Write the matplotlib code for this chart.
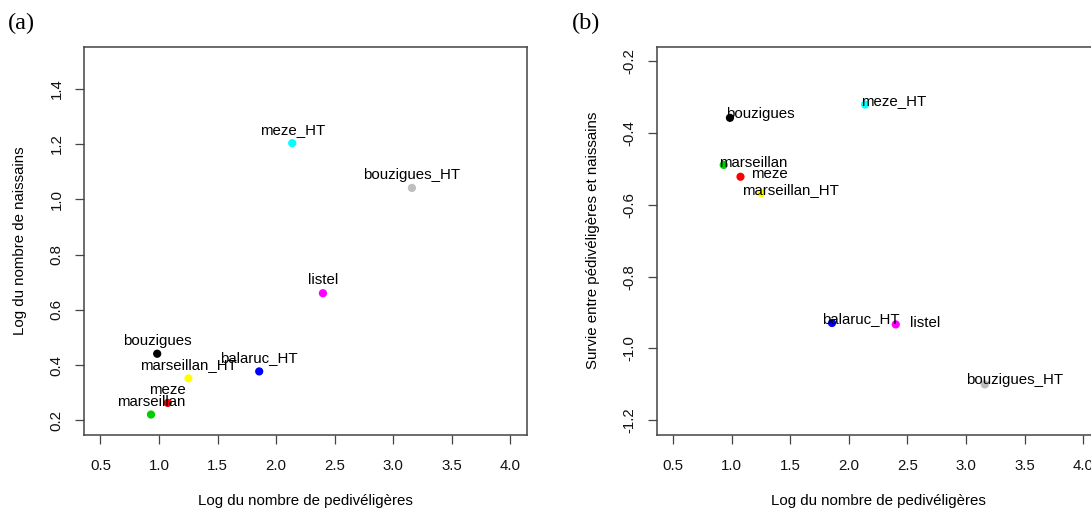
import matplotlib
matplotlib.use("Agg")
import matplotlib.pyplot as plt

plt.rcParams['font.family'] = ['Liberation Sans', 'DejaVu Sans']
plt.rcParams['axes.unicode_minus'] = False

# sites et couleurs
sites = ['bouzigues', 'bouzigues_HT', 'marseillan', 'marseillan_HT',
         'meze', 'meze_HT', 'balaruc_HT', 'listel']
couleurs = ['black', '#BEBEBE', '#00CD00', '#FFFF00',
            '#FF0000', '#00FFFF', '#0000FF', '#FF00FF']

# valeurs
log_pedi = [0.985, 3.16, 0.932, 1.252, 1.075, 2.138, 1.856, 2.40]
log_naissains = [0.441, 1.041, 0.221, 0.352, 0.263, 1.203, 0.377, 0.660]
survie = [-0.358, -1.100, -0.489, -0.568, -0.522, -0.321, -0.929, -0.933]

xticks = [0.5, 1.0, 1.5, 2.0, 2.5, 3.0, 3.5, 4.0]
yticks_a = [0.2, 0.4, 0.6, 0.8, 1.0, 1.2, 1.4]
yticks_b = [-1.2, -1.0, -0.8, -0.6, -0.4, -0.2]

# decalage des etiquettes du panneau (b), en pixels
decal_b = {'bouzigues': (-4, 4), 'bouzigues_HT': (-19, 4), 'marseillan': (-5, 2),
           'marseillan_HT': (-19, 3), 'meze': (11, 3), 'meze_HT': (-4, 4),
           'balaruc_HT': (-10, 4), 'listel': (14, 1)}

gris = '#444444'
fs = 10.8


def style_axes(ax, yticks, ylim):
    ax.set_xlim(0.5 - 0.14, 4.0 + 0.14)
    r = ylim[1] - ylim[0]
    ax.set_ylim(ylim[0] - 0.04 * r, ylim[1] + 0.04 * r)
    ax.set_xticks(xticks)
    ax.set_xticklabels([f"{v:.1f}" for v in xticks])
    ax.set_yticks(yticks)
    ax.set_yticklabels([f"{v:.1f}" for v in yticks], rotation=90, va='center')
    for s in ax.spines.values():
        s.set_color(gris)
        s.set_linewidth(1.1)
    ax.tick_params(axis='both', colors=gris, labelcolor='#111111', length=6.8,
                   width=0.9, labelsize=fs)
    ax.tick_params(axis='x', pad=10.5)
    ax.tick_params(axis='y', pad=8)


fig = plt.figure(figsize=(10.91, 5.08), dpi=100)
ax1 = fig.add_axes([0.07699, 0.14429, 0.40577, 0.76378])
ax2 = fig.add_axes([0.60192, 0.14429, 0.40605, 0.76378])

# (a)
ax1.scatter(log_pedi, log_naissains, c=couleurs, s=24, zorder=2)
for nom, x, y in zip(sites, log_pedi, log_naissains):
    ax1.annotate(nom, (x, y), xytext=(0, 9), textcoords='offset pixels',
                 ha='center', va='baseline', fontsize=fs, zorder=3)
style_axes(ax1, yticks_a, (0.2, 1.5))
ax1.set_xlabel('Log du nombre de pedivéligères', fontsize=fs, va='baseline')
ax1.xaxis.set_label_coords(0.5, -0.181)
ax1.set_ylabel('Log du nombre de naissains', fontsize=fs, va='center')
ax1.yaxis.set_label_coords(-0.1446, 0.5)

# (b)
ax2.scatter(log_pedi, survie, c=couleurs, s=24, zorder=2)
for nom, x, y in zip(sites, log_pedi, survie):
    dx, dy = decal_b[nom]
    ax2.annotate(nom, (x, y), xytext=(dx, dy), textcoords='offset pixels',
                 ha='left', va='center', fontsize=fs, zorder=3)
style_axes(ax2, yticks_b, (-1.2, -0.2))
ax2.set_xlabel('Log du nombre de pedivéligères', fontsize=fs, va='baseline')
ax2.xaxis.set_label_coords(0.5, -0.181)
ax2.set_ylabel('Survie entre pédivéligères et naissains', fontsize=fs, va='center')
ax2.yaxis.set_label_coords(-0.1438, 0.5)

fig.text(7.6 / 1091, 1 - 29 / 508, '(a)', family='Liberation Serif', fontsize=17.5,
         ha='left', va='baseline')
fig.text(572 / 1091, 1 - 29 / 508, '(b)', family='Liberation Serif', fontsize=17.5,
         ha='left', va='baseline')

fig.savefig('out.png', dpi=100)
